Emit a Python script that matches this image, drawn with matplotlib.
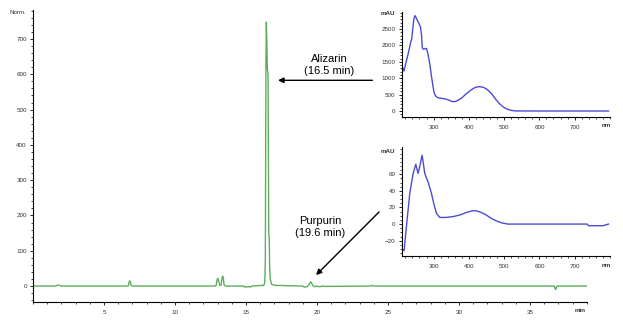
import matplotlib
matplotlib.use("Agg")
import matplotlib.pyplot as plt
from matplotlib.ticker import MultipleLocator

plt.rcParams['font.family'] = ['Liberation Sans', 'DejaVu Sans']

# Chromatogram (normalised detector signal vs retention time, min)
time_min = [0, 1.6, 1.75, 1.85, 2.0, 2.1, 6.6, 6.7, 6.75, 6.8, 6.85, 6.9, 7.0,
            12.8, 12.9, 12.95, 13.0, 13.05, 13.15, 13.25, 13.3, 13.35, 13.4, 13.45, 13.55,
            14.8, 14.9, 15.0, 15.1, 15.2, 15.3, 15.4,
            16.25, 16.32, 16.36, 16.4, 16.43, 16.46, 16.5, 16.55, 16.6, 16.63, 16.66,
            16.7, 16.8, 17.0, 19.0, 19.1, 19.3, 19.45, 19.55, 19.6, 19.7, 19.8, 19.95,
            20.2, 20.4, 20.6, 23.8, 23.9, 24.0, 36.7, 36.75, 36.8, 36.85, 36.9, 39.0]
signal = [0, 0, 3, 2, 0, 0, 0, 0, 8, 15, 12, 2, 0,
          0, 2, 15, 22, 18, 2, 3, 20, 28, 24, 4, 0,
          0, -3, -1, -3, -1, -3, 0,
          2, 10, 80, 620, 748, 700, 615, 600, 145, 140, 60,
          20, 5, 2, 0, -3, -2, 5, 12, 10, 2, -2, 0,
          -2, 0, -1, 0, 2, 0, 0, -6, -10, -4, 0, 0]

# UV-Vis spectrum of the peak at 16.5 min (Alizarin)
aliz_nm = [210, 213, 216, 220, 225, 230, 235, 238, 241, 244, 247, 250, 254, 258, 263,
           266, 268, 272, 276, 280, 284, 289, 294, 298, 301, 305, 310, 316, 322, 330,
           338, 346, 354, 362, 370, 380, 392, 406, 418, 430, 442, 453, 465, 476, 487,
           498, 509, 518, 526, 535, 600, 700, 796]
aliz_mau = [1400, 1300, 1220, 1400, 1620, 1840, 2100, 2200, 2500, 2800, 2910, 2860, 2760,
            2680, 2560, 2300, 1920, 1880, 1900, 1910, 1740, 1450, 1060, 780, 580, 470,
            420, 395, 385, 375, 355, 320, 285, 290, 330, 400, 520, 640, 720, 745, 720,
            650, 520, 360, 220, 120, 55, 25, 10, 2, 0, 0, 0]

# UV-Vis spectrum of the peak at 19.6 min (Purpurin)
purp_nm = [210, 216.5, 223, 232.5, 242, 249.6, 256, 261, 267.6, 275, 285, 294, 301, 308,
           317.6, 335, 355, 375, 393, 410, 421, 435, 449, 463, 477, 493, 510, 600,
           735, 740, 780, 796]
purp_mau = [-30, -32, -3, 37, 61, 72, 61, 70, 83, 61, 50, 37, 24, 13,
            8, 8, 9, 11, 14, 16, 16, 14, 11, 7, 4, 1.5, 0, 0,
            0, -2, -2, 0]

GREEN = '#5cae5c'
BLUE = '#4b4bd6'
TICK_FS = 4.5
TEXT_FS = 8


def style_axes(ax, xmajor, xminor, ymajor, yminor):
    for side in ('top', 'right'):
        ax.spines[side].set_visible(False)
    for side in ('left', 'bottom'):
        ax.spines[side].set_linewidth(0.8)
    ax.xaxis.set_major_locator(MultipleLocator(xmajor))
    ax.xaxis.set_minor_locator(MultipleLocator(xminor))
    ax.yaxis.set_major_locator(MultipleLocator(ymajor))
    ax.yaxis.set_minor_locator(MultipleLocator(yminor))
    ax.tick_params(which='major', length=2.5, width=0.6, labelsize=TICK_FS,
                   pad=2, labelcolor='#333333')
    ax.tick_params(which='minor', length=1.5, width=0.5)
    ax.tick_params(axis='x', which='major', pad=3)


fig = plt.figure(figsize=(6.23, 3.25), dpi=100)

# main chromatogram
ax = fig.add_axes([0.053, 0.071, 0.889, 0.898])
ax.plot(time_min, signal, color=GREEN, lw=1.0)
ax.set_xlim(0, 39)
ax.set_ylim(-45, 782)
style_axes(ax, 5, 1, 100, 20)
ax.set_xticks([5, 10, 15, 20, 25, 30, 35])
ax.set_yticks([0, 100, 200, 300, 400, 500, 600, 700])
ax.text(-0.012, 0.99, 'Norm.', transform=ax.transAxes, ha='right', va='center',
        fontsize=TICK_FS, color='#333333')
ax.text(0.987, -0.022, 'min', transform=ax.transAxes, ha='center', va='top',
        fontsize=TICK_FS, color='#333333', fontweight='bold')

# peak labels with arrows
ax.annotate('', xy=(17.25, 583), xytext=(23.9, 583),
            arrowprops=dict(arrowstyle='-|>', color='black', lw=1.0,
                            mutation_scale=8, shrinkA=0, shrinkB=0))
ax.text(20.85, 627, 'Alizarin\n(16.5 min)', ha='center', va='center',
        fontsize=TEXT_FS, linespacing=1.3)
ax.annotate('', xy=(19.93, 31), xytext=(24.37, 210),
            arrowprops=dict(arrowstyle='-|>', color='black', lw=1.0,
                            mutation_scale=8, shrinkA=0, shrinkB=0))
ax.text(20.2, 168, 'Purpurin\n(19.6 min)', ha='center', va='center',
        fontsize=TEXT_FS, linespacing=1.3)

# inset: Alizarin spectrum
ax1 = fig.add_axes([0.645, 0.64, 0.334, 0.323])
ax1.plot(aliz_nm, aliz_mau, color=BLUE, lw=1.0)
ax1.set_xlim(210, 800)
ax1.set_ylim(-183, 3020)
style_axes(ax1, 100, 20, 500, 100)
ax1.set_xticks([300, 400, 500, 600, 700])
ax1.set_yticks([0, 500, 1000, 1500, 2000, 2500])
ax1.text(-0.03, 0.985, 'mAU', transform=ax1.transAxes, ha='right', va='center',
         fontsize=TICK_FS, color='#333333', fontweight='bold')
ax1.text(0.98, -0.06, 'nm', transform=ax1.transAxes, ha='center', va='top',
         fontsize=TICK_FS, color='#333333', fontweight='bold')

# inset: Purpurin spectrum
ax2 = fig.add_axes([0.645, 0.212, 0.334, 0.336])
ax2.plot(purp_nm, purp_mau, color=BLUE, lw=1.0)
ax2.set_xlim(210, 800)
ax2.set_ylim(-38.6, 93)
style_axes(ax2, 100, 20, 20, 5)
ax2.set_xticks([300, 400, 500, 600, 700])
ax2.set_yticks([-20, 0, 20, 40, 60])
ax2.text(-0.03, 0.96, 'mAU', transform=ax2.transAxes, ha='right', va='center',
         fontsize=TICK_FS, color='#333333', fontweight='bold')
ax2.text(0.98, -0.06, 'nm', transform=ax2.transAxes, ha='center', va='top',
         fontsize=TICK_FS, color='#333333', fontweight='bold')

fig.savefig('out.png', dpi=100)
